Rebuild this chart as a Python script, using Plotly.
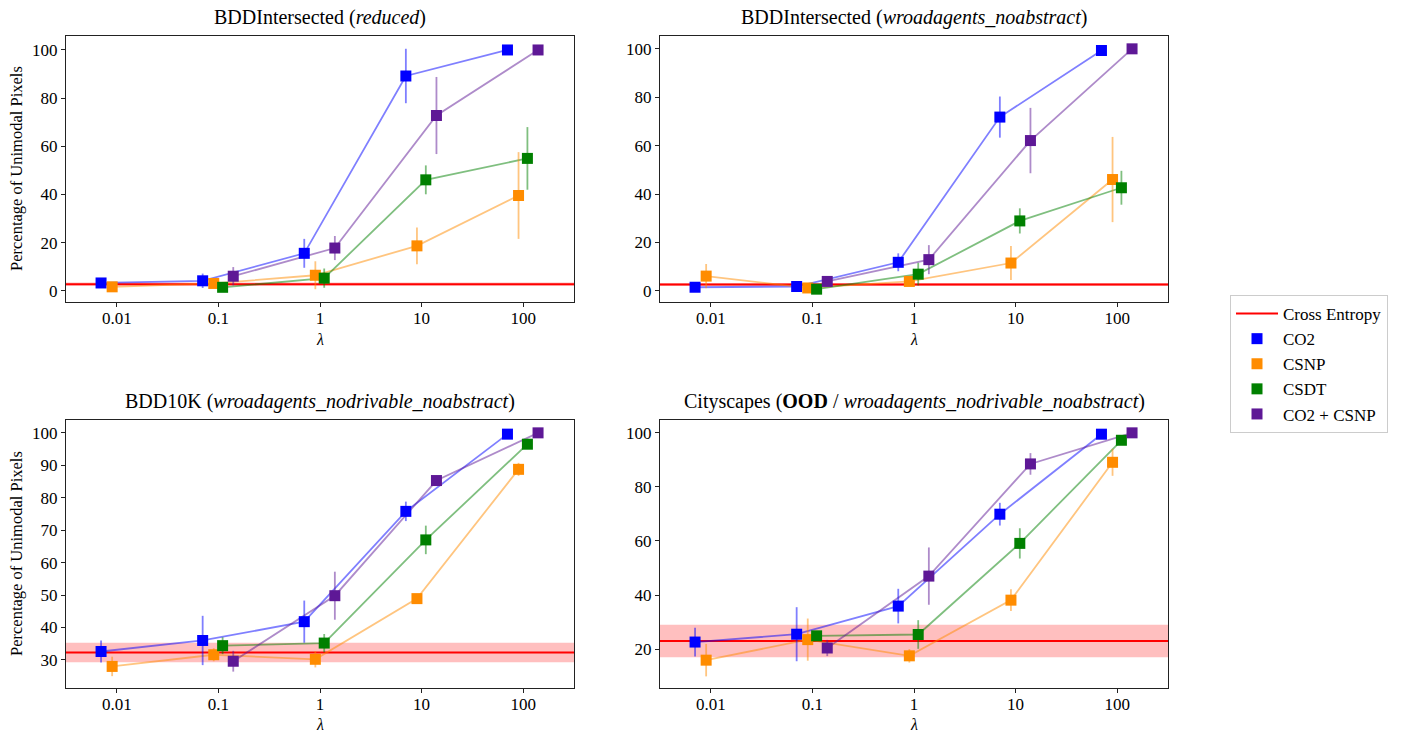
import plotly.graph_objects as go

# ---- data -------------------------------------------------------------
lambdas = [0.01, 0.1, 1, 10, 100]
lambdas_short = [0.1, 1, 10, 100]
tick_text = ["0.01", "0.1", "1", "10", "100"]

# horizontal offsets (multiplicative) so the series do not overlap
offset_co2 = 0.7
offset_csnp = 0.9
offset_csdt = 1.1
offset_combo = 1.4

# BDDIntersected (reduced)
a_co2 = [3.3, 4.2, 15.6, 89.2, 100.0]
a_co2_err = [0.8, 3.0, 6.0, 11.3, 0.3]
a_csnp = [1.7, 3.1, 6.5, 18.7, 39.6]
a_csnp_err = [0.8, 1.5, 5.8, 7.6, 18.0]
a_csdt = [1.5, 5.3, 46.1, 55.0]
a_csdt_err = [1.0, 4.0, 6.0, 13.0]
a_combo = [6.1, 17.8, 72.8, 100.0]
a_combo_err = [3.8, 5.0, 16.0, 0.3]
a_ce, a_ce_std = 2.8, 0.7

# BDDIntersected (wroadagents_noabstract)
b_co2 = [1.5, 1.8, 11.8, 71.8, 99.3]
b_co2_err = [0.5, 0.8, 3.7, 8.5, 0.5]
b_csnp = [6.1, 1.2, 3.9, 11.5, 46.0]
b_csnp_err = [5.0, 0.8, 1.5, 7.0, 17.6]
b_csdt = [0.7, 6.9, 28.9, 42.6]
b_csdt_err = [0.7, 4.7, 5.2, 7.0]
b_combo = [3.9, 12.9, 62.1, 100.0]
b_combo_err = [1.0, 6.0, 13.5, 0.3]
b_ce, b_ce_std = 2.6, 0.6

# BDD10K (wroadagents_nodrivable_noabstract)
c_co2 = [32.6, 36.0, 41.8, 75.8, 99.6]
c_co2_err = [3.4, 7.6, 6.5, 3.0, 0.3]
c_csnp = [28.0, 31.6, 30.2, 48.9, 88.75]
c_csnp_err = [3.0, 2.0, 2.5, 0.8, 2.0]
c_csdt = [34.4, 35.2, 67.0, 96.5]
c_csdt_err = [2.6, 2.8, 4.4, 0.8]
c_combo = [29.6, 49.8, 85.3, 100.0]
c_combo_err = [3.2, 7.4, 1.5, 0.2]
c_ce, c_ce_std = 32.3, 3.0

# Cityscapes (OOD / wroadagents_nodrivable_noabstract)
d_co2 = [22.6, 25.5, 35.9, 69.9, 99.5]
d_co2_err = [5.3, 10.0, 6.4, 4.2, 0.5]
d_csnp = [15.9, 23.5, 17.5, 38.1, 89.1]
d_csnp_err = [6.0, 7.8, 2.5, 4.0, 5.0]
d_csdt = [24.9, 25.4, 59.1, 97.25]
d_csdt_err = [1.0, 5.3, 5.6, 0.8]
d_combo = [20.4, 47.0, 88.5, 100.0]
d_combo_err = [3.0, 10.6, 4.0, 0.2]
d_ce, d_ce_std = 23.0, 6.0

titles = [
    "BDDIntersected (<i>reduced</i>)",
    "BDDIntersected (<i>wroadagents_noabstract</i>)",
    "BDD10K (<i>wroadagents_nodrivable_noabstract</i>)",
    "Cityscapes (<b>OOD</b> / <i>wroadagents_nodrivable_noabstract</i>)",
]
x_label = "<i>λ</i>"
y_label = "Percentage of Unimodal Pixels"
y_ranges = [[-4.6, 105.8], [-4.6, 105.3], [21.35, 103.96], [5.6, 104.75]]
y_ticks = [
    [0, 20, 40, 60, 80, 100],
    [0, 20, 40, 60, 80, 100],
    [30, 40, 50, 60, 70, 80, 90, 100],
    [20, 40, 60, 80, 100],
]
x_range_log = [-2.5, 2.5]

panels = [
    dict(co2=(a_co2, a_co2_err), csnp=(a_csnp, a_csnp_err), csdt=(a_csdt, a_csdt_err),
         combo=(a_combo, a_combo_err), ce=(a_ce, a_ce_std)),
    dict(co2=(b_co2, b_co2_err), csnp=(b_csnp, b_csnp_err), csdt=(b_csdt, b_csdt_err),
         combo=(b_combo, b_combo_err), ce=(b_ce, b_ce_std)),
    dict(co2=(c_co2, c_co2_err), csnp=(c_csnp, c_csnp_err), csdt=(c_csdt, c_csdt_err),
         combo=(c_combo, c_combo_err), ce=(c_ce, c_ce_std)),
    dict(co2=(d_co2, d_co2_err), csnp=(d_csnp, d_csnp_err), csdt=(d_csdt, d_csdt_err),
         combo=(d_combo, d_combo_err), ce=(d_ce, d_ce_std)),
]

series = [
    ("co2", "CO2", lambdas, offset_co2, (0, 0, 255)),
    ("csnp", "CSNP", lambdas, offset_csnp, (255, 140, 0)),
    ("csdt", "CSDT", lambdas_short, offset_csdt, (0, 128, 0)),
    ("combo", "CO2 + CSNP", lambdas_short, offset_combo, (94, 24, 150)),
]

# ---- layout geometry (pixels -> paper) -------------------------------
W, H = 1403, 734
boxes = [  # left, right, top, bottom in pixels
    (66, 574, 36, 302),
    (660, 1168, 36, 302),
    (66, 574, 420, 688),
    (660, 1168, 420, 688),
]
x_label_gap = [38, 38, 36, 36]  # pixels below the axis for the λ label

FONT = "Liberation Serif"
fig = go.Figure()
shapes = []
annotations = []


def rgba(c, a):
    return f"rgba({c[0]},{c[1]},{c[2]},{a})"


for i, (panel, box) in enumerate(zip(panels, boxes)):
    k = "" if i == 0 else str(i + 1)
    xa, ya = "x" + k, "y" + k
    ce_val, ce_std = panel["ce"]

    # Cross Entropy reference: std band + mean line
    shapes.append(dict(type="rect", xref=f"{xa} domain", yref=ya, x0=0, x1=1,
                       y0=ce_val - ce_std, y1=ce_val + ce_std,
                       fillcolor="rgba(255,0,0,0.25)", line=dict(width=0), layer="below"))
    fig.add_trace(go.Scatter(
        x=[10 ** x_range_log[0], 10 ** x_range_log[1]], y=[ce_val, ce_val],
        mode="lines", line=dict(color="#ff0000", width=2),
        name="Cross Entropy", legendgroup="ce", showlegend=(i == 0),
        xaxis=xa, yaxis=ya, cliponaxis=True))

    # connecting lines first, so markers sit on top
    for key, name, lam, off, col in series:
        vals, errs = panel[key]
        fig.add_trace(go.Scatter(
            x=[l * off for l in lam], y=vals, mode="lines",
            line=dict(color=rgba(col, 0.5), width=1.8),
            showlegend=False, hoverinfo="skip", xaxis=xa, yaxis=ya))
    for key, name, lam, off, col in series:
        vals, errs = panel[key]
        fig.add_trace(go.Scatter(
            x=[l * off for l in lam], y=vals, mode="markers",
            marker=dict(symbol="square", size=11, color=rgba(col, 1)),
            error_y=dict(type="data", array=errs, visible=True, width=0,
                         thickness=1.8, color=rgba(col, 0.5)),
            name=name, legendgroup=key, showlegend=(i == 0),
            xaxis=xa, yaxis=ya))

    left, right, top, bottom = box
    xdom = [left / W, right / W]
    ydom = [1 - bottom / H, 1 - top / H]
    axis_common = dict(showline=True, linecolor="#222", linewidth=1, mirror=True,
                       ticks="outside", ticklen=4, tickcolor="#222", showgrid=False,
                       zeroline=False, automargin=False,
                       tickfont=dict(family=FONT, size=17, color="black"))
    fig.layout["xaxis" + k] = dict(
        domain=xdom, anchor=ya, type="log", range=x_range_log,
        tickvals=lambdas, ticktext=tick_text, ticklabelstandoff=-3, **axis_common)
    fig.layout["yaxis" + k] = dict(
        domain=ydom, anchor=xa, range=y_ranges[i], tickvals=y_ticks[i],
        **axis_common)

    # panel title
    annotations.append(dict(
        text=titles[i], xref="paper", yref="paper",
        x=(xdom[0] + xdom[1]) / 2, y=1 - (top - 5) / H,
        xanchor="center", yanchor="bottom", showarrow=False,
        font=dict(family=FONT, size=20, color="black")))
    # x-axis label
    annotations.append(dict(
        text=x_label, xref="paper", yref="paper",
        x=(xdom[0] + xdom[1]) / 2, y=1 - (bottom + x_label_gap[i]) / H,
        xanchor="center", yanchor="middle", showarrow=False,
        font=dict(family=FONT, size=16, color="black")))
    # y-axis label on the left column only
    if i in (0, 2):
        annotations.append(dict(
            text=y_label, xref="paper", yref="paper", textangle=-90,
            x=16 / W, y=(ydom[0] + ydom[1]) / 2,
            xanchor="center", yanchor="middle", showarrow=False,
            font=dict(family=FONT, size=16.5, color="black")))

fig.update_layout(
    width=W, height=H,
    margin=dict(l=0, r=0, t=0, b=0, autoexpand=False),
    paper_bgcolor="white", plot_bgcolor="white",
    shapes=shapes, annotations=annotations,
    font=dict(family=FONT, size=17, color="black"),
    legend=dict(x=1230 / W, y=1 - 295 / H, xanchor="left", yanchor="top",
                bordercolor="#cccccc", borderwidth=1, bgcolor="white",
                font=dict(family=FONT, size=17, color="black"),
                tracegroupgap=0, itemwidth=42),
)

fig.write_html("out.html")
